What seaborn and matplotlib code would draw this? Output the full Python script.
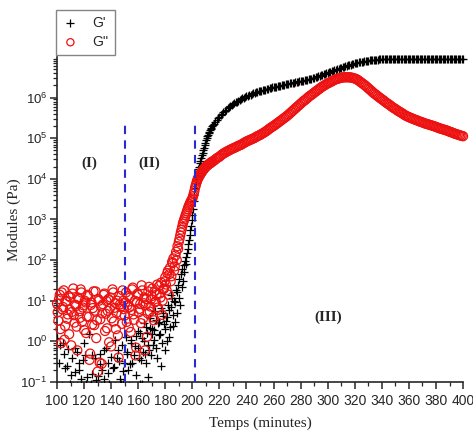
import pandas as pd
import seaborn as sns
import matplotlib.pyplot as plt
from matplotlib.ticker import MultipleLocator

# sampling grid (minutes): noisy part (whole and half minutes), steep rise, smooth part
t_noisy = list(range(100, 190))
t_noisy_half = [100.5 + i for i in range(90)]
t_rise = [190 + 0.5 * i for i in range(50)]
t_smooth = list(range(215, 401))

# G' (Pa) (values under 0.1 fall below the axis)
gp_noisy = [1.2, 0.05, 0.8, 0.04, 0.06, 0.5, 0.22, 0.03, 0.65, 0.07,
            0.05, 0.4, 0.08, 0.18, 0.04, 0.55, 0.3, 0.06, 0.12, 0.05,
            0.9, 0.45, 0.07, 0.04, 1.5, 0.09, 0.16, 0.05, 0.38, 0.06,
            0.14, 0.03, 0.5, 0.2, 0.07, 0.12, 0.7, 0.05, 0.3, 0.08,
            0.42, 0.06, 0.24, 1.1, 0.04, 0.6, 0.33, 0.09, 0.8, 0.19,
            0.06, 1.3, 0.55, 0.08, 0.28, 0.9, 0.05, 0.45, 1.35, 0.07,
            0.7, 1.6, 0.35, 0.09, 1.0, 0.5, 2.2, 0.13, 0.6, 2.1,
            1.5, 0.8, 1.9, 3.4, 0.4, 3.0, 1.5, 0.25, 5.0, 2.6,
            0.6, 4.0, 8.0, 1.3, 7.0, 12, 2.4, 9.5, 18, 5.0]
gp_noisy_half = [0.06, 0.3, 0.05, 0.08, 0.9, 0.04, 0.07, 0.25, 0.05, 0.09,
                 0.15, 0.06, 0.04, 0.7, 0.08, 0.05, 0.2, 0.07, 0.04, 0.35,
                 0.06, 0.09, 0.13, 0.05, 0.08, 0.45, 0.04, 0.07, 0.11, 0.06,
                 0.05, 0.28, 0.08, 0.04, 0.6, 0.07, 0.05, 0.17, 0.09, 0.04,
                 0.06, 0.22, 0.08, 0.05, 0.4, 0.07, 0.12, 0.05, 0.09, 0.3,
                 0.08, 0.5, 0.2, 0.07, 1.1, 0.3, 0.06, 0.75, 0.15, 1.8,
                 0.4, 0.09, 1.2, 0.55, 2.8, 0.3, 1.6, 0.8, 3.8, 0.45,
                 2.0, 1.1, 5.5, 0.7, 2.9, 1.4, 6.5, 0.9, 4.2, 2.0,
                 3.2, 1.0, 6.0, 2.2, 14, 4.5, 10, 3.0, 16, 25]
gp_rise = [12, 35, 8, 45, 22, 60, 30, 75, 50, 95,
           80, 120, 150, 190, 250, 320, 420, 540, 710, 950,
           1260, 1800, 2800, 4000, 6000, 7900, 1.0e4, 1.2e4, 1.4e4, 1.7e4,
           2.0e4, 2.4e4, 2.8e4, 3.2e4, 3.8e4, 4.4e4, 5.0e4, 5.8e4, 6.8e4, 7.8e4,
           8.9e4, 1.0e5, 1.12e5, 1.23e5, 1.35e5, 1.46e5, 1.58e5, 1.7e5, 1.82e5, 1.95e5]
gp_smooth = [2.1e5, 2.3e5, 2.55e5, 2.8e5, 3.1e5, 3.4e5, 3.7e5, 4.0e5, 4.35e5, 4.7e5,
             5.05e5, 5.4e5, 5.8e5, 6.2e5, 6.55e5, 6.9e5, 7.25e5, 7.6e5, 7.95e5, 8.3e5,
             8.7e5, 9.1e5, 9.55e5, 1.0e6, 1.03e6, 1.07e6, 1.11e6, 1.15e6, 1.19e6, 1.23e6,
             1.28e6, 1.32e6, 1.35e6, 1.38e6, 1.42e6, 1.45e6, 1.48e6, 1.51e6, 1.55e6, 1.58e6,
             1.62e6, 1.66e6, 1.70e6, 1.74e6, 1.78e6, 1.82e6, 1.84e6, 1.86e6, 1.9e6, 1.95e6,
             1.97e6, 2.0e6, 2.05e6, 2.09e6, 2.12e6, 2.14e6, 2.19e6, 2.24e6, 2.26e6, 2.29e6,
             2.35e6, 2.40e6, 2.42e6, 2.45e6, 2.51e6, 2.57e6, 2.6e6, 2.63e6, 2.69e6, 2.75e6,
             2.78e6, 2.82e6, 2.88e6, 2.95e6, 3.02e6, 3.09e6, 3.16e6, 3.24e6, 3.31e6, 3.39e6,
             3.51e6, 3.63e6, 3.71e6, 3.8e6, 3.94e6, 4.07e6, 4.17e6, 4.27e6, 4.42e6, 4.57e6,
             4.68e6, 4.79e6, 4.96e6, 5.13e6, 5.25e6, 5.37e6, 5.56e6, 5.75e6, 5.89e6, 6.03e6,
             6.17e6, 6.31e6, 6.46e6, 6.61e6, 6.76e6, 6.92e6, 7.08e6, 7.24e6, 7.32e6, 7.41e6,
             7.5e6, 7.59e6, 7.76e6, 7.94e6, 8.03e6, 8.13e6, 8.22e6, 8.32e6, 8.41e6, 8.51e6,
             8.51e6, 8.51e6, 8.6e6, 8.7e6, 8.7e6, 8.7e6, 8.7e6, 8.7e6, 8.7e6, 8.7e6,
             8.7e6, 8.7e6, 8.7e6, 8.7e6, 8.7e6, 8.7e6, 8.7e6, 8.7e6, 8.7e6, 8.7e6,
             8.7e6, 8.7e6, 8.7e6, 8.7e6, 8.7e6, 8.7e6, 8.7e6, 8.7e6, 8.7e6, 8.7e6,
             8.7e6, 8.7e6, 8.7e6, 8.7e6, 8.7e6, 8.7e6, 8.7e6, 8.7e6, 8.7e6, 8.7e6,
             8.7e6, 8.7e6, 8.7e6, 8.7e6, 8.7e6, 8.7e6, 8.7e6, 8.7e6, 8.7e6, 8.7e6,
             8.7e6, 8.7e6, 8.7e6, 8.7e6, 8.7e6, 8.7e6, 8.7e6, 8.7e6, 8.7e6, 8.7e6,
             8.7e6, 8.7e6, 8.7e6, 8.7e6, 8.7e6, 8.7e6]

# G'' (Pa)
gpp_noisy = [8.5, 3.2, 14, 0.9, 6.1, 18, 2.4, 9.8, 4.6, 1.5,
             12, 5.3, 20, 2.9, 7.4, 0.6, 11, 3.8, 16, 6.8,
             1.9, 9.1, 4.1, 13, 0.35, 7.9, 2.6, 17, 5.7, 1.2,
             0.18, 10, 3.5, 0.28, 8.2, 15, 4.8, 2.1, 11, 6.4,
             0.75, 19, 3.1, 8.8, 5.0, 1.4, 13, 7.1, 2.7, 10,
             4.3, 16, 7.6, 2.2, 12, 5.9, 21, 3.4, 0.45, 9.4,
             14, 6.3, 2.8, 18, 8.7, 0.6, 11, 4.9, 22, 7.2,
             13, 3.9, 17, 9.6, 25, 6.0, 15, 28, 10, 20,
             38, 18, 55, 45, 30, 90, 110, 70, 160, 220]
gpp_noisy_half = [5.2, 11, 2.0, 16, 7.0, 1.1, 9.5, 3.6, 13, 6.0,
                  0.8, 15, 4.4, 8.0, 2.3, 12, 5.5, 19, 3.0, 7.7,
                  10, 1.6, 14, 4.0, 0.5, 9.0, 6.6, 2.5, 17, 3.3,
                  11, 0.3, 7.3, 4.9, 14, 1.8, 9.9, 5.6, 0.95, 12,
                  3.7, 16, 6.7, 2.0, 10, 0.4, 8.1, 4.5, 18, 6.2,
                  9.0, 3.0, 13, 6.9, 1.7, 19, 4.6, 10, 0.7, 15,
                  5.2, 8.3, 24, 3.6, 12, 7.8, 1.3, 17, 5.4, 11,
                  20, 3.3, 9.2, 14, 6.8, 23, 12, 4.5, 19, 30,
                  25, 48, 14, 65, 40, 85, 55, 130, 100, 190]
gpp_rise = [280, 330, 400, 480, 560, 660, 790, 890, 1000, 1120,
            1260, 1410, 1580, 1780, 2000, 2190, 2400, 2630, 2820, 3020,
            3310, 3720, 4270, 5010, 6030, 6920, 7940, 8910, 1.0e4, 1.07e4,
            1.15e4, 1.23e4, 1.32e4, 1.40e4, 1.48e4, 1.57e4, 1.66e4, 1.74e4, 1.82e4, 1.91e4,
            2.0e4, 2.07e4, 2.14e4, 2.21e4, 2.29e4, 2.34e4, 2.40e4, 2.45e4, 2.57e4, 2.63e4]
gpp_smooth = [2.7e4, 2.8e4, 3.0e4, 3.2e4, 3.35e4, 3.5e4, 3.75e4, 4.0e4, 4.2e4, 4.4e4,
              4.6e4, 4.8e4, 5.0e4, 5.2e4, 5.4e4, 5.6e4, 5.8e4, 6.0e4, 6.25e4, 6.5e4,
              6.7e4, 6.9e4, 7.25e4, 7.6e4, 7.95e4, 8.3e4, 8.6e4, 8.9e4, 9.2e4, 9.5e4,
              9.85e4, 1.02e5, 1.07e5, 1.12e5, 1.16e5, 1.20e5, 1.26e5, 1.32e5, 1.38e5, 1.45e5,
              1.53e5, 1.62e5, 1.72e5, 1.82e5, 1.91e5, 2.0e5, 2.12e5, 2.24e5, 2.37e5, 2.51e5,
              2.66e5, 2.82e5, 2.99e5, 3.16e5, 3.35e5, 3.55e5, 3.8e5, 4.07e5, 4.37e5, 4.68e5,
              5.0e5, 5.37e5, 5.75e5, 6.17e5, 6.6e5, 7.08e5, 7.6e5, 8.13e5, 8.6e5, 9.12e5,
              9.8e5, 1.05e6, 1.11e6, 1.17e6, 1.24e6, 1.32e6, 1.4e6, 1.48e6, 1.57e6, 1.66e6,
              1.76e6, 1.86e6, 1.95e6, 2.04e6, 2.14e6, 2.24e6, 2.32e6, 2.40e6, 2.51e6, 2.63e6,
              2.72e6, 2.82e6, 2.89e6, 2.95e6, 3.02e6, 3.09e6, 3.12e6, 3.16e6, 3.16e6, 3.16e6,
              3.16e6, 3.16e6, 3.12e6, 3.09e6, 3.02e6, 2.95e6, 2.85e6, 2.75e6, 2.6e6, 2.45e6,
              2.32e6, 2.19e6, 2.07e6, 1.95e6, 1.82e6, 1.70e6, 1.59e6, 1.48e6, 1.38e6, 1.29e6,
              1.22e6, 1.15e6, 1.08e6, 1.02e6, 9.6e5, 9.1e5, 8.6e5, 8.1e5, 7.6e5, 7.2e5,
              6.85e5, 6.5e5, 6.1e5, 5.75e5, 5.5e5, 5.25e5, 4.95e5, 4.7e5, 4.5e5, 4.3e5,
              4.1e5, 3.9e5, 3.7e5, 3.55e5, 3.42e5, 3.3e5, 3.2e5, 3.1e5, 3.0e5, 2.9e5,
              2.82e5, 2.75e5, 2.66e5, 2.57e5, 2.51e5, 2.45e5, 2.37e5, 2.3e5, 2.25e5, 2.2e5,
              2.15e5, 2.1e5, 2.05e5, 2.0e5, 1.95e5, 1.9e5, 1.84e5, 1.78e5, 1.74e5, 1.7e5,
              1.66e5, 1.62e5, 1.58e5, 1.55e5, 1.5e5, 1.45e5, 1.41e5, 1.38e5, 1.33e5, 1.29e5,
              1.26e5, 1.23e5, 1.2e5, 1.17e5, 1.14e5, 1.12e5]

phase_x = [150, 202]
phase_top = 2.8e5
phase_labels = ["(I)", "(II)", "(III)"]
phase_label_pos = [(124, 2.4e4), (168, 2.4e4), (300, 4.0)]
y_ticks = [1e-1, 1e0, 1e1, 1e2, 1e3, 1e4, 1e5, 1e6]

sns.set_style("ticks")
plt.rcParams['font.family'] = ['Liberation Sans', 'DejaVu Sans']
plt.rcParams['mathtext.default'] = 'regular'


def main():
    df = pd.DataFrame({
        "t": t_noisy + t_noisy_half + t_rise + t_smooth,
        "gp": gp_noisy + gp_noisy_half + gp_rise + gp_smooth,
        "gpp": gpp_noisy + gpp_noisy_half + gpp_rise + gpp_smooth,
    })
    noisy = df[df["t"] < 190]
    rest = df[df["t"] >= 190]

    fig = plt.figure(figsize=(4.73, 4.45), dpi=100)
    ax = fig.add_axes([0.1205, 0.1416, 0.8585, 0.7304])

    red = "#ee1111"
    # G' : low part is clipped at the axis, the plateau may overhang the top
    sns.scatterplot(data=noisy, x="t", y="gp", marker="+", color="black", s=40,
                    linewidth=0.9, label="G'", ax=ax, zorder=3)
    sns.scatterplot(data=rest, x="t", y="gp", marker="+", color="black", s=40,
                    linewidth=0.9, ax=ax, clip_on=False, zorder=3)
    sns.scatterplot(data=df, x="t", y="gpp", marker="o", facecolors="none",
                    edgecolor=red, s=42, linewidth=0.9, label="G''", ax=ax,
                    clip_on=False, zorder=4)

    ax.vlines(phase_x, 1e-1, phase_top, colors="#2a2ad4", linestyles=(0, (4, 3)),
              linewidth=1.5, zorder=5)
    for lab, (x, y) in zip(phase_labels, phase_label_pos):
        ax.text(x, y, lab, ha="center", va="center", fontsize=11,
                family="Liberation Serif", fontweight="bold")

    ax.set_yscale("log")
    ax.set_ylim(1e-1, 1e7)
    ax.set_yticks(y_ticks)
    ax.set_xlim(100, 400)
    ax.set_xticks(range(100, 401, 20))
    ax.xaxis.set_minor_locator(MultipleLocator(10))
    ax.tick_params(which="major", direction="out", length=5, width=1.1, labelsize=10)
    ax.tick_params(axis="y", which="major", labelsize=9.5, pad=2)
    ax.tick_params(which="minor", direction="out", length=3, width=0.9)
    sns.despine(ax=ax)
    for s in ["left", "bottom"]:
        ax.spines[s].set_linewidth(1.2)

    ax.set_xlabel("Temps (minutes)", family="Liberation Serif", fontsize=11, labelpad=6)
    ax.set_ylabel("Modules (Pa)", family="Liberation Serif", fontsize=11)
    ax.yaxis.set_label_coords(-0.088, 0.5)

    leg = ax.legend(loc="upper left", bbox_to_anchor=(0.118, 0.978),
                    bbox_transform=fig.transFigure, borderaxespad=0,
                    fancybox=False, fontsize=10, handlelength=1.2,
                    handletextpad=1.0, borderpad=0.45, labelspacing=0.35,
                    markerscale=0.8)
    leg.get_frame().set_edgecolor("#666666")
    leg.get_frame().set_linewidth(1.0)

    fig.savefig("out.png", dpi=100)


if __name__ == "__main__":
    main()
